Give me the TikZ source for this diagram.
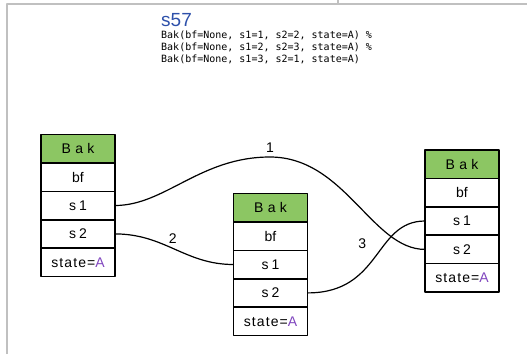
\documentclass[tikz,border=0pt]{standalone}
\usepackage{fontspec}
\setmainfont{Liberation Sans}
\setmonofont{DejaVu Sans Mono}
\usetikzlibrary{positioning,calc}

\definecolor{headgreen}{RGB}{140,198,99}
\definecolor{statepurple}{RGB}{128,70,190}
\definecolor{titleblue}{RGB}{45,80,170}
\definecolor{framegray}{RGB}{192,192,192}

\newcommand{\spaced}[2][30]{{\addfontfeature{LetterSpace=#1}#2}}
% one record: #1 name prefix, (#2,#3) top centre
\newcommand{\bakbox}[3]{%
  \node[bakhead] (#1h) at (#2,#3) {\spaced{Bak}};
  \node[bakcell, below=0pt of #1h]  (#1bf) {bf};
  \node[bakcell, below=0pt of #1bf] (#1s1) {\spaced[22]{s1}};
  \node[bakcell, below=0pt of #1s1] (#1s2) {\spaced[22]{s2}};
  \node[bakcell, below=0pt of #1s2] (#1st) {\spaced[8]{state=\textcolor{statepurple}{A}}};
}

\begin{document}
\begin{tikzpicture}[x=1pt, y=-1pt, line join=round,
  bakcell/.style={draw, line width=1.6pt, minimum width=74pt, minimum height=28.4pt,
    inner sep=0pt, outer sep=0pt, font=\fontsize{14}{16}\selectfont},
  bakhead/.style={bakcell, fill=headgreen, anchor=north},
  link/.style={line width=1.2pt},
  lbl/.style={font=\fontsize{14}{16}\selectfont}]
\useasboundingbox (0,0) rectangle (527,354);
\draw[framegray, line width=2pt] (7,354) -- (7,4) -- (527,4) (338,0) -- (338,4);

\node[anchor=base west, text=titleblue, font=\fontsize{19}{22}\selectfont, inner sep=0pt] (title) at (161,26) {s57};
\foreach \txt [count=\i] in {{Bak(bf=None, s1=1, s2=2, state=A) \%},
                             {Bak(bf=None, s1=2, s2=3, state=A) \%},
                             {Bak(bf=None, s1=3, s2=1, state=A)}}
  \node[anchor=base west, inner sep=0pt, font=\ttfamily\fontsize{10}{12}\selectfont] (line\i) at (161,26.5+12*\i) {\txt};

\bakbox{l}{78}{134.5}
\bakbox{m}{270.5}{193.5}
\bakbox{r}{462}{150}

\draw[link] (ls1.east) .. controls (165,205.5) and (200,157) .. (270,157) node[lbl, above=1pt] {1}
  .. controls (345,157) and (372,249.4) .. (rs2.west);
\draw[link] (ls2.east) .. controls (165,234) and (185,264.5) .. (ms1.west) node[lbl, midway, above=2pt, xshift=-2pt] {2};
\draw[link] (ms2.east) .. controls (382,293) and (374,221) .. (rs1.west) node[lbl, pos=0.55, left=9pt, yshift=8pt] {3};
\end{tikzpicture}
\end{document}
